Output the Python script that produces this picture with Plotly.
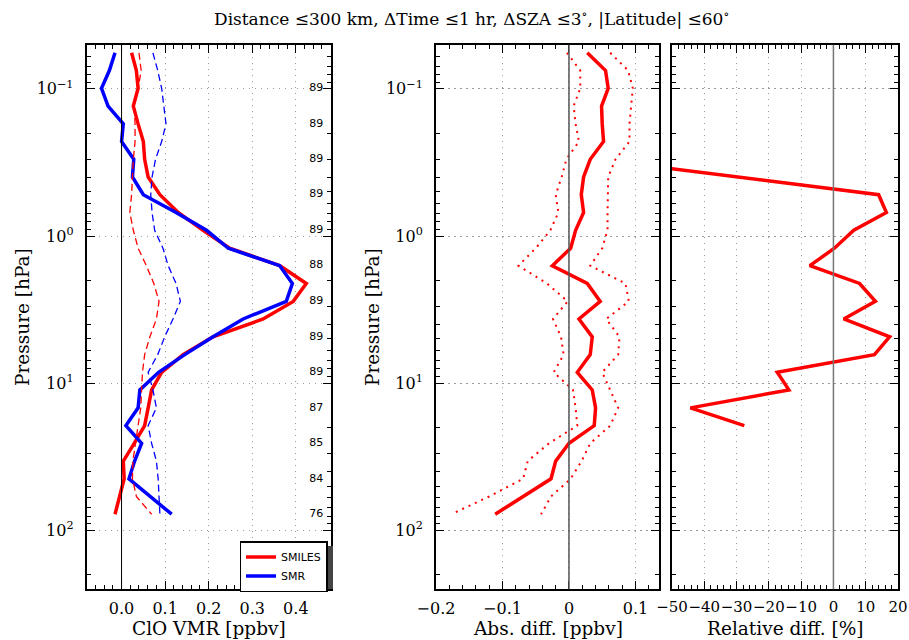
import plotly.graph_objects as go

# ---------------- data ----------------
pressure = [0.0569, 0.0751, 0.0991, 0.131, 0.173, 0.228, 0.301, 0.397, 0.524, 0.692,
            0.914, 1.21, 1.59, 2.10, 2.78, 3.66, 4.84, 6.39, 8.43, 11.1,
            14.7, 19.4, 25.6, 33.8, 44.6, 58.8, 77.6]

smiles_vmr = [0.023, 0.034, 0.038, 0.027, 0.038, 0.050, 0.053, 0.061, 0.088, 0.130,
              0.187, 0.248, 0.363, 0.424, 0.394, 0.325, 0.210, 0.141, 0.092, 0.069,
              0.061, 0.053, 0.029, 0.004, 0.006, -0.005, -0.015]
smr_vmr = [-0.015, -0.028, -0.046, -0.031, 0.004, 0.000, 0.028, 0.025, 0.050, 0.125,
           0.195, 0.245, 0.363, 0.392, 0.378, 0.279, 0.210, 0.145, 0.085, 0.042,
           0.038, 0.010, 0.046, 0.030, 0.017, 0.066, 0.115]
smiles_std = [0.040, 0.045, 0.038, 0.029, 0.031, 0.031, 0.027, 0.025, 0.023, 0.019,
              0.027, 0.038, 0.057, 0.074, 0.086, 0.080, 0.065, 0.053, 0.048, 0.046,
              0.044, 0.038, 0.032, 0.026, 0.025, 0.034, 0.069]
smr_std = [0.072, 0.083, 0.092, 0.097, 0.102, 0.092, 0.078, 0.070, 0.067, 0.070,
           0.076, 0.095, 0.107, 0.125, 0.135, 0.118, 0.099, 0.083, 0.061, 0.072,
           0.080, 0.061, 0.069, 0.080, 0.084, 0.086, 0.088]

abs_diff = [0.0275, 0.055, 0.059, 0.049, 0.050, 0.052, 0.032, 0.022, 0.0185, 0.022,
            0.010, 0.0025, -0.025, 0.0275, 0.047, 0.015, 0.035, 0.032, 0.0125, 0.035,
            0.040, 0.038, 0.000, -0.020, -0.027, -0.069, -0.111]
abs_diff_lo = [-0.003, 0.017, 0.017, 0.007, 0.010, 0.015, -0.004, -0.011, -0.020, -0.016,
               -0.028, -0.050, -0.076, -0.033, -0.002, -0.024, -0.012, -0.008, -0.023, 0.006,
               0.010, 0.0125, -0.030, -0.062, -0.069, -0.120, -0.177]
abs_diff_hi = [0.062, 0.089, 0.096, 0.094, 0.091, 0.091, 0.070, 0.059, 0.058, 0.058,
               0.058, 0.050, 0.032, 0.085, 0.090, 0.056, 0.076, 0.074, 0.050, 0.062,
               0.074, 0.062, 0.032, 0.019, 0.0025, -0.027, -0.042]

rel_diff = [None, None, None, None, None, None, -73.0, None, 14.0, 16.4,
            6.3, 0.3, -7.3, 8.1, 13.0, 3.2, 17.4, 12.7, -17.4, -13.8,
            -44.3, -27.6, None, None, None, None, None]

counts = [89, 89, 89, 89, 89, 88, 89, 89, 89, 87, 85, 84, 76]
count_pressure = pressure[2::2]

ytick_vals = [0.1, 1, 10, 100]
ytick_text = ["10<sup>\u22121</sup>", "10<sup>0</sup>", "10<sup>1</sup>", "10<sup>2</sup>"]
yminor_vals = [0.05, 0.06, 0.07, 0.08, 0.09, 0.2, 0.3, 0.4, 0.5, 0.6, 0.7, 0.8, 0.9,
               2, 3, 4, 5, 6, 7, 8, 9, 20, 30, 40, 50, 60, 70, 80, 90, 200]

x1_vals = [0.0, 0.1, 0.2, 0.3, 0.4]
x1_text = ["0.0", "0.1", "0.2", "0.3", "0.4"]
x2_vals = [-0.2, -0.1, 0, 0.1]
x2_text = ["\u22120.2", "\u22120.1", "0", "0.1"]
x3_vals = [-50, -40, -30, -20, -10, 0, 10, 20]
x3_text = ["\u221250", "\u221240", "\u221230", "\u221220", "\u221210", "0", "10", "20"]

# ---------------- layout helpers ----------------
W, H = 909, 640
def px(x):
    return x / W
def py(y):
    return 1 - y / H

SERIF = "DejaVu Serif"
SANS = "DejaVu Sans"
RED = "#ff0000"
BLUE = "#0000ff"

fig = go.Figure()

# left panel
fig.add_trace(go.Scatter(x=smiles_vmr, y=pressure, mode="lines", name="SMILES",
                         line=dict(color=RED, width=3.5), xaxis="x", yaxis="y"))
fig.add_trace(go.Scatter(x=smr_vmr, y=pressure, mode="lines", name="SMR",
                         line=dict(color=BLUE, width=3.5), xaxis="x", yaxis="y"))
fig.add_trace(go.Scatter(x=smiles_std, y=pressure, mode="lines", showlegend=False,
                         line=dict(color=RED, width=1.3, dash="7px,4px"), xaxis="x", yaxis="y"))
fig.add_trace(go.Scatter(x=smr_std, y=pressure, mode="lines", showlegend=False,
                         line=dict(color=BLUE, width=1.3, dash="7px,4px"), xaxis="x", yaxis="y"))
fig.add_trace(go.Scatter(x=[0.447] * len(counts), y=count_pressure, mode="text",
                         text=[str(c) for c in counts], showlegend=False,
                         textfont=dict(family=SANS, size=11, color="black"),
                         xaxis="x", yaxis="y"))

# middle panel
fig.add_trace(go.Scatter(x=abs_diff_lo, y=pressure, mode="lines", showlegend=False,
                         line=dict(color=RED, width=2, dash="2px,5px"), xaxis="x2", yaxis="y2"))
fig.add_trace(go.Scatter(x=abs_diff_hi, y=pressure, mode="lines", showlegend=False,
                         line=dict(color=RED, width=2, dash="2px,5px"), xaxis="x2", yaxis="y2"))
fig.add_trace(go.Scatter(x=abs_diff, y=pressure, mode="lines", showlegend=False,
                         line=dict(color=RED, width=3.5), xaxis="x2", yaxis="y2"))

# right panel
fig.add_trace(go.Scatter(x=rel_diff, y=pressure, mode="lines", showlegend=False,
                         connectgaps=True,
                         line=dict(color=RED, width=3.5), xaxis="x3", yaxis="y3"))

ydom = [py(589.3), py(44.7)]
common_axis = dict(showline=True, linecolor="black", linewidth=2, mirror="ticks",
                   ticks="inside", ticklen=8, tickwidth=1.2, tickcolor="black",
                   showgrid=True, gridcolor="#9a9a9a", gridwidth=1, griddash="1.5px,4.5px",
                   zeroline=False, automargin=False, tickangle=0,
                   tickfont=dict(family=SERIF, size=16, color="black"))

def yaxis_cfg(anchor, labels):
    d = dict(common_axis)
    d.update(type="log", range=[2.4, -1.3], domain=ydom, anchor=anchor,
             tickmode="array", tickvals=ytick_vals, ticktext=ytick_text,
             showticklabels=labels, ticklabelstandoff=8,
             minor=dict(tickmode="array", tickvals=yminor_vals, ticks="inside",
                        ticklen=4, tickwidth=1, tickcolor="black", showgrid=False))
    return d

def xaxis_cfg(anchor, dom, rng, vals, text, mdt):
    d = dict(common_axis)
    d.update(domain=dom, range=rng, anchor=anchor, tickmode="array",
             tickvals=vals, ticktext=text, ticklabelstandoff=3,
             minor=dict(dtick=mdt, tick0=0, ticks="inside", ticklen=4, tickwidth=1,
                        tickcolor="black", showgrid=False))
    return d

fig.update_layout(
    width=W, height=H, template="none",
    paper_bgcolor="white", plot_bgcolor="white",
    margin=dict(l=0, r=0, t=0, b=0, autoexpand=False),
    xaxis=xaxis_cfg("y", [px(86.7), px(330.7)], [-0.08, 0.48], x1_vals, x1_text, 0.02),
    xaxis2=xaxis_cfg("y2", [px(436), px(659)], [-0.2, 0.1354], x2_vals, x2_text, 0.02),
    xaxis3=xaxis_cfg("y3", [px(672), px(898)], [-50, 20], x3_vals, x3_text, 2),
    yaxis=yaxis_cfg("x", True),
    yaxis2=yaxis_cfg("x2", True),
    yaxis3=yaxis_cfg("x3", False),
    showlegend=True,
    legend=dict(x=px(239.5), y=py(541), xanchor="left", yanchor="top",
                bgcolor="white", bordercolor="black", borderwidth=1.5,
                font=dict(family=SANS, size=11, color="black"),
                itemwidth=30, tracegroupgap=0),
)
fig.update_xaxes(tickfont=dict(family=SERIF, size=15, color="black"), selector=dict(anchor="y3"))

# zero lines
fig.add_shape(type="line", xref="x", yref="y domain", x0=0, x1=0, y0=0, y1=1,
              line=dict(color="black", width=1))
fig.add_shape(type="line", xref="x2", yref="y2 domain", x0=0, x1=0, y0=0, y1=1,
              line=dict(color="#555555", width=1.5))
fig.add_shape(type="line", xref="x3", yref="y3 domain", x0=0, x1=0, y0=0, y1=1,
              line=dict(color="#777777", width=1.5))
# legend shadow
fig.add_shape(type="rect", xref="paper", yref="paper", layer="above",
              x0=px(244), x1=px(333), y0=py(589), y1=py(546),
              fillcolor="#444444", line=dict(width=0))

annots = [
    dict(text="Distance \u2264300 km, \u0394Time \u22641 hr, \u0394SZA \u22643<sup>\u2218</sup>, |Latitude| \u226460<sup>\u2218</sup>",
         x=px(471), y=py(18), size=17),
    dict(text="ClO VMR [ppbv]", x=px(209), y=py(628), size=18.5),
    dict(text="Abs. diff. [ppbv]", x=px(548), y=py(628), size=18.5),
    dict(text="Relative diff. [%]", x=px(785), y=py(628), size=18.5),
]
for a in annots:
    fig.add_annotation(text=a["text"], x=a["x"], y=a["y"], xref="paper", yref="paper",
                       xanchor="center", yanchor="middle", showarrow=False,
                       font=dict(family=SERIF, size=a["size"], color="black"))
for xc in (22, 372):
    fig.add_annotation(text="Pressure [hPa]", x=px(xc), y=py(317), xref="paper", yref="paper",
                       xanchor="center", yanchor="middle", showarrow=False, textangle=-90,
                       font=dict(family=SERIF, size=18.5, color="black"))

fig.write_html("out.html", config={"displayModeBar": False},
               post_script="document.body.style.margin='0';document.body.style.padding='0';")
